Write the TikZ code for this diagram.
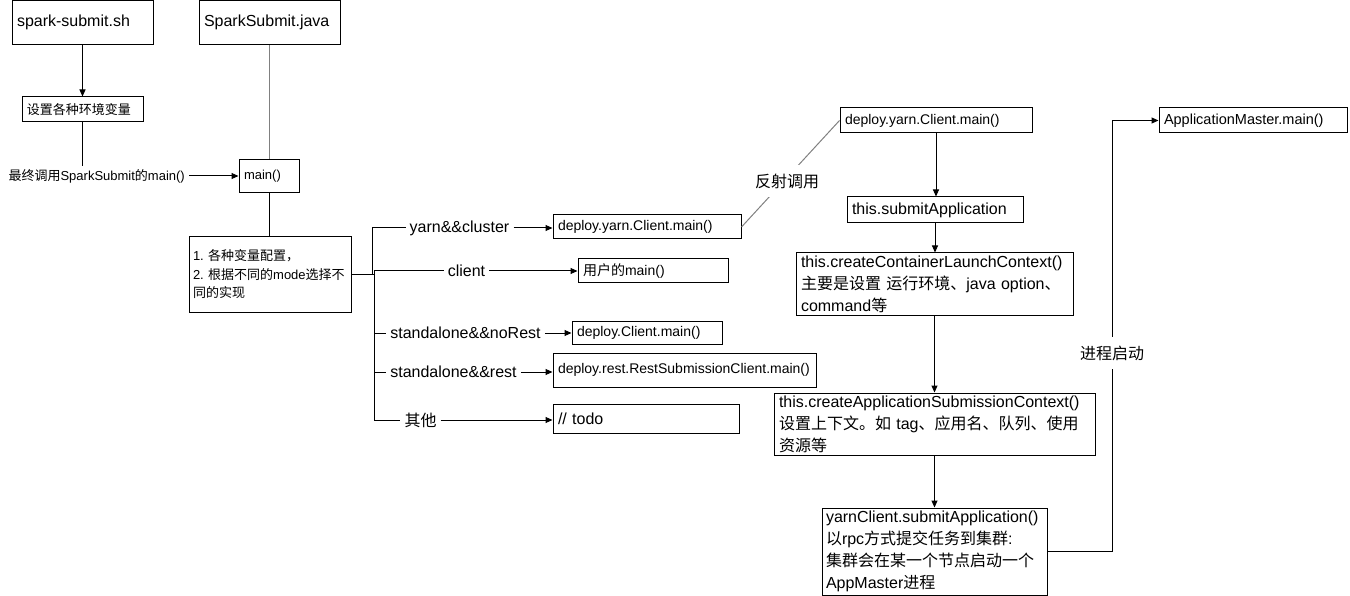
\documentclass[tikz,border=0pt]{standalone}
\usepackage{fontspec}
\setmainfont{Liberation Sans}
\newfontfamily\cjk{Noto Sans CJK SC}
\newcommand\zh[1]{{\cjk #1}}
\usetikzlibrary{arrows.meta}
\definecolor{edgegray}{RGB}{128,128,128}
\begin{document}
\begin{tikzpicture}[x=1pt,y=-1pt,
  box/.style={draw, line width=1pt, align=left, inner xsep=5pt, inner ysep=0pt},
  lbl/.style={inner xsep=4pt, inner ysep=2pt, font=\fontsize{16}{19}\selectfont},
  elbl/.style={fill=white, inner xsep=4pt, inner ysep=9pt, font=\fontsize{16}{19}\selectfont},
  arr/.style={line width=1pt, -{Triangle[length=7pt,width=6pt]}},
  ln/.style={line width=1pt},
  gln/.style={line width=1pt, draw=edgegray},
  fa/.style={font=\fontsize{13}{18.5}\selectfont},
  fb/.style={font=\fontsize{14}{18}\selectfont},
  fd/.style={font=\fontsize{14.5}{18}\selectfont},
  fc/.style={font=\fontsize{16}{22}\selectfont}]
\useasboundingbox (0,0) rectangle (1350,596);

% left column
\node[box, fc, text width=131pt, minimum height=44.5pt] (ss) at (82.5,22.75) {spark-submit.sh};
\node[box, fc, text width=131pt, minimum height=44.5pt] (sj) at (269.5,22.75) {SparkSubmit.java};
\node[box, fa, text width=111pt, minimum height=25pt] (env) at (82.5,109.5) {\zh{设置各种环境变量}};
\node[fa, inner xsep=4pt, inner ysep=3pt, anchor=east] (call) at (189,176) {\zh{最终调用}SparkSubmit\zh{的}main()};
\node[box, fa, text width=50pt, minimum height=33pt] (mainb) at (269,176.5) {main()};
\node[box, fa, inner xsep=4pt, text width=154pt, minimum height=75pt] (mode) at (270,274.5)
  {1.~\zh{各种变量配置，}\\2.~\zh{根据不同的}mode\zh{选择不}\\\zh{同的实现}};

% branch labels
\node[lbl] (yarnl) at (459.5,228) {yarn\&\&cluster};
\node[lbl] (clientl) at (466.5,271) {client};
\node[lbl] (norestl) at (465.5,333) {standalone\&\&noRest};
\node[lbl] (restl) at (453.5,372) {standalone\&\&rest};
\node[lbl] (otherl) at (420.5,420) {\zh{其他}};

% branch targets
\node[box, fb, text width=178pt, minimum height=24pt] (yc1) at (647,227) {deploy.yarn.Client.main()};
\node[box, fb, text width=140pt, minimum height=24pt] (user) at (653,271) {\zh{用户的}main()};
\node[box, fb, text width=140pt, minimum height=23pt] (dc) at (647,332.5) {deploy.Client.main()};
\node[box, fb, text width=253pt, minimum height=34pt] (rc) at (684.5,370) {deploy.rest.RestSubmissionClient.main()};
\node[box, fc, text width=176pt, minimum height=29pt] (todo) at (646,418.5) {//~todo};

% right column
\node[box, fb, text width=182pt, minimum height=25pt] (yc2) at (936,120.5) {deploy.yarn.Client.main()};
\node[box, fc, text width=166pt, minimum height=26pt] (sa) at (935,210) {this.submitApplication};
\node[box, fc, inner xsep=5pt, text width=267pt, minimum height=62pt] (cclc) at (934.5,284)
  {this.createContainerLaunchContext()\\\zh{主要是设置}~\zh{运行环境、}java~option\zh{、}\\command\zh{等}};
\node[box, fc, text width=311pt, minimum height=62pt] (casc) at (934.5,424)
  {this.createApplicationSubmissionContext()\\\zh{设置上下文。如}~tag\zh{、应用名、队列、使用}\\\zh{资源等}};
\node[box, fc, inner xsep=4pt, text width=217pt, minimum height=87pt] (ycsa) at (934.5,551.5)
  {yarnClient.submitApplication()\\\zh{以}rpc\zh{方式提交任务到集群}:\\\zh{集群会在某一个节点启动一个}\\AppMaster\zh{进程}};
\node[box, fd, text width=178pt, minimum height=25pt] (am) at (1253,120.5) {ApplicationMaster.main()};

% connectors left
\draw[arr] (ss.south) -- (ss.south |- env.north);
\draw[ln] (env.south) -- (env.south |- call.north);
\draw[arr] (call.east) -- (call.east -| mainb.west);
\draw[gln] (sj.south) -- (sj.south |- mainb.north);
\draw[ln] (mainb.south) -- (mainb.south |- mode.north);

\coordinate (j1) at ([xshift=21pt]mode.east);
\coordinate (j2) at ([xshift=23pt]mode.east);
\draw[ln] (mode.east) -- (j1) |- (yarnl.west);
\draw[ln] (mode.east) -- (j2) |- (clientl.west);
\draw[ln] (mode.east) -- (j2) |- (norestl.west);
\draw[ln] (mode.east) -- (j2) |- (restl.west);
\draw[ln] (mode.east) -- (j2) |- (otherl.west);

\draw[arr] (yarnl.east) -- (yarnl.east -| yc1.west);
\draw[arr] (clientl.east) -- (clientl.east -| user.west);
\draw[arr] (norestl.east) -- (norestl.east -| dc.west);
\draw[arr] (restl.east) -- (restl.east -| rc.west);
\draw[arr] (otherl.east) -- (otherl.east -| todo.west);

% connectors right
\draw[gln] (yc1.east) -- (yc2.west);
\node[elbl] (refl) at (787,181) {\zh{反射调用}};
\draw[arr] (yc2.south) -- (yc2.south |- sa.north);
\draw[arr] (sa.south) -- (sa.south |- cclc.north);
\draw[arr] (cclc.south) -- (cclc.south |- casc.north);
\draw[arr] (casc.south) -- (casc.south |- ycsa.north);

\coordinate (k) at (1112,0);
\draw[arr] (ycsa.east) -| (k |- am.west) -- (am.west);
\node[elbl] (startl) at (1112,353) {\zh{进程启动}};
\end{tikzpicture}
\end{document}
